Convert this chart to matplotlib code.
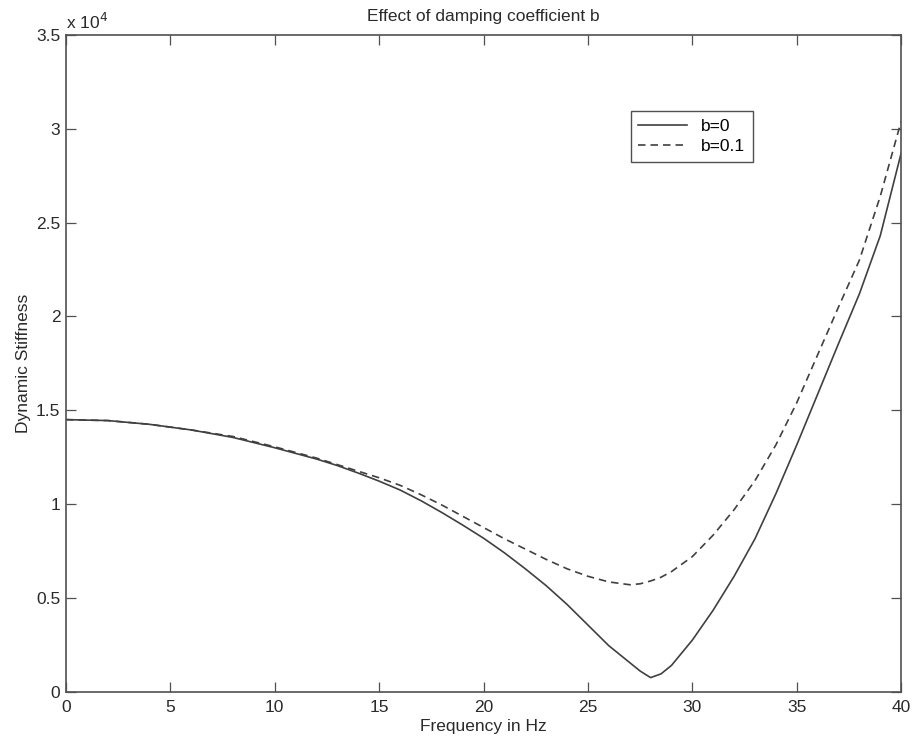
import numpy as np
import matplotlib
matplotlib.use("Agg")
import matplotlib.pyplot as plt

plt.rcParams['font.family'] = ['Liberation Sans', 'DejaVu Sans']

# values (stiffness in units of 1e4)
freq = [0, 2, 4, 6, 8, 10, 12, 13, 14, 15, 16, 17, 18, 19, 20, 21, 22, 23, 24,
        25, 26, 27, 27.5, 28, 28.5, 29, 30, 31, 32, 33, 34, 35, 36, 37, 38, 39, 40]
stiff_b0 = [1.45, 1.445, 1.425, 1.395, 1.355, 1.30, 1.24, 1.205, 1.165, 1.122,
            1.075, 1.018, 0.955, 0.888, 0.818, 0.74, 0.655, 0.565, 0.465, 0.355,
            0.245, 0.155, 0.11, 0.075, 0.095, 0.14, 0.275, 0.435, 0.615, 0.815,
            1.055, 1.315, 1.585, 1.855, 2.12, 2.43, 2.87]
stiff_b01 = [1.45, 1.445, 1.425, 1.395, 1.36, 1.305, 1.245, 1.21, 1.175, 1.14,
             1.10, 1.05, 0.995, 0.935, 0.875, 0.815, 0.76, 0.705, 0.655, 0.615,
             0.585, 0.57, 0.575, 0.59, 0.61, 0.64, 0.72, 0.835, 0.97, 1.125, 1.315,
             1.54, 1.795, 2.05, 2.30, 2.64, 3.04]
labels = ['b=0', 'b=0.1']

line_col = '#404040'
ax_col = '#505050'
txt_col = '#2a2a2a'
fs = 12.5

fig = plt.figure(figsize=(9.13, 7.46), dpi=100)
ax = fig.add_axes([0.0723, 0.0728, 0.9147, 0.8803])

ax.plot(freq, stiff_b0, '-', color=line_col, lw=1.2, label=labels[0])
ax.plot(freq, stiff_b01, '--', color=line_col, lw=1.2, dashes=(4.5, 3), label=labels[1])

ax.set_xlim(0, 40)
ax.set_ylim(0, 3.5)
ax.set_xticks(np.arange(0, 41, 5))
ax.set_yticks(np.arange(0, 3.51, 0.5))
ax.set_yticklabels(['0', '0.5', '1', '1.5', '2', '2.5', '3', '3.5'])
ax.tick_params(direction='in', top=True, right=True, length=7, width=0.9,
               colors=ax_col, labelcolor=txt_col, labelsize=fs)
ax.tick_params(axis='x', pad=6)
ax.tick_params(axis='y', pad=4)
for s in ax.spines.values():
    s.set_color(ax_col)
    s.set_linewidth(1.2)

ax.text(0.0, 1.004, r'x 10$^4$', transform=ax.transAxes, fontsize=fs,
        color=txt_col, ha='left', va='bottom')

ax.set_title('Effect of damping coefficient b', fontsize=fs, color=txt_col, pad=10)
ax.set_xlabel('Frequency in Hz', fontsize=fs, color=txt_col, labelpad=3)
ax.set_ylabel('Dynamic Stiffness', fontsize=fs, color=txt_col, labelpad=4)

leg = ax.legend(loc='upper left', bbox_to_anchor=(0.676, 0.884), fontsize=fs,
                frameon=True, fancybox=False, edgecolor=ax_col, framealpha=1,
                handlelength=2.8, borderpad=0.45, labelspacing=0.3,
                handletextpad=0.8, borderaxespad=0)
leg.get_frame().set_linewidth(1.0)

fig.savefig('out.png', dpi=100)
